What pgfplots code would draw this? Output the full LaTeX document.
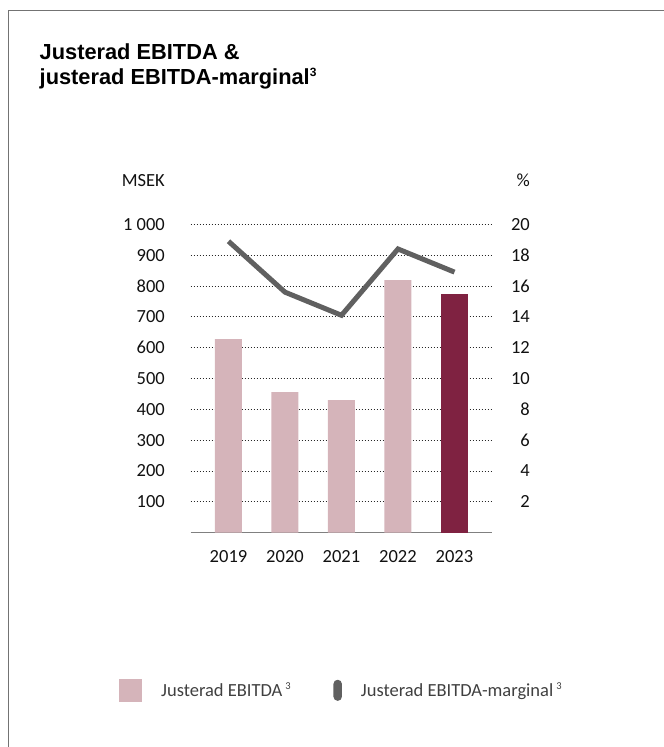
\documentclass[border=0pt]{standalone}
\usepackage{pgfplots}
\pgfplotsset{compat=1.18}
\usepackage{fontspec}
\setmainfont{Carlito}
\newfontfamily\titlefont{Liberation Sans Bold}
\definecolor{barpink}{HTML}{D5B4BA}
\definecolor{barred}{HTML}{7F2241}
\definecolor{linegray}{HTML}{606060}
\definecolor{labelc}{HTML}{111111}
\definecolor{legc}{HTML}{404040}
\newcommand{\lblfont}{\fontsize{18.5}{21}\selectfont}
\begin{document}
\begin{tikzpicture}[x=1pt,y=1pt]
\useasboundingbox (0,0) rectangle (664,-747);
\draw[color=black!55, line width=1.3pt] (8.7,-760) -- (8.7,-10.7) -- (680,-10.7);
\node[anchor=base west, font=\titlefont\fontsize{21.8}{25}\selectfont, inner sep=0pt] at (39.5,-59.3) {Justerad EBITDA \&};
\node[anchor=base west, font=\titlefont\fontsize{21.8}{25}\selectfont, inner sep=0pt] at (39.5,-84.3) {justerad EBITDA-marginal\raisebox{7.5pt}{\fontsize{12}{13}\selectfont 3}};
\node[anchor=base east, font=\lblfont, text=labelc, inner sep=0pt] at (165,-186) {MSEK};
\node[anchor=base east, font=\lblfont, text=labelc, inner sep=0pt] at (530,-186) {\%};

\begin{axis}[
  at={(190.7pt,-532.7pt)}, anchor=south west,
  scale only axis, width=301.3pt, height=308.4pt,
  xmin=-0.669, xmax=4.664, ymin=0, ymax=1000,
  axis x line*=bottom, axis y line*=left,
  x axis line style={-, draw=black!50, line width=1.4pt},
  y axis line style={draw=none},
  major tick length=0pt,
  xtick={0,1,2,3,4}, xticklabels={2019,2020,2021,2022,2023},
  ytick={100,200,300,400,500,600,700,800,900,1000},
  yticklabels={100,200,300,400,500,600,700,800,900,1 000},
  ymajorgrids,
  grid style={black!85, line width=0.9pt, dash pattern=on 0.9pt off 2.1pt},
  yticklabel style={anchor=east, inner sep=0pt, xshift=-25.7pt, font=\lblfont, text=labelc},
  xticklabel style={anchor=base, inner sep=0pt, yshift=-29.6pt, font=\lblfont, text=labelc},
  clip=false,
]
\addplot[ybar, bar width=27pt, bar shift=0pt, fill=barpink, draw=none] coordinates {(0,628) (1,456) (2,430) (3,819)};
\addplot[ybar, bar width=27pt, bar shift=0pt, fill=barred, draw=none] coordinates {(4,774)};
\end{axis}

\begin{axis}[
  at={(190.7pt,-532.7pt)}, anchor=south west,
  scale only axis, width=301.3pt, height=308.4pt,
  xmin=-0.669, xmax=4.664, ymin=0, ymax=20,
  hide x axis,
  axis y line*=right, y axis line style={draw=none},
  major tick length=0pt,
  ytick={2,4,6,8,10,12,14,16,18,20},
  yticklabels={2,4,6,8,10,12,14,16,18,20},
  yticklabel style={anchor=east, inner sep=0pt, xshift=38pt, font=\lblfont, text=labelc},
  clip=false,
  legend columns=2,
  legend cell align=left,
  legend style={at={(-0.238,-0.511)}, anchor=west, draw=none, fill=none, inner sep=0pt,
    nodes={inner sep=0pt}, font=\lblfont, text=legc,
    /tikz/every odd column/.append style={column sep=19pt}},
]
\addlegendimage{legend image code/.code={\fill[barpink, draw=none] (0pt,-11.5pt) rectangle (23pt,11.5pt);}}
\addlegendentry{\makebox[172.3pt][l]{Justerad EBITDA\hspace{3pt}\raisebox{6.5pt}{\fontsize{10.5}{12}\selectfont 3}}}
\addplot[linegray, line width=5pt,
  legend image code/.code={\path[fill=linegray, draw=none, line width=0pt, rounded corners=4pt] (0pt,-10.5pt) rectangle (8.4pt,10.5pt);}]
  coordinates {(0,18.9) (1,15.6) (2,14.1) (3,18.4) (4,16.9)};
\addlegendentry{Justerad EBITDA-marginal\hspace{3pt}\raisebox{6.5pt}{\fontsize{10.5}{12}\selectfont 3}}
\end{axis}
\end{tikzpicture}
\end{document}
